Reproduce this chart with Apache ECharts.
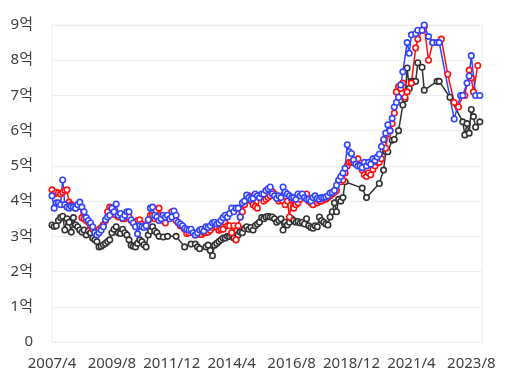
<!DOCTYPE html>
<html><head><meta charset="utf-8">
<script src="https://cdn.jsdelivr.net/npm/echarts@6/dist/echarts.min.js"></script>
<style>html,body{margin:0;padding:0;background:#fff}#c{width:510px;height:385px}</style>
</head><body><div id="c"></div>
<script>
// months 2007/4 .. 2024/1
const startYear = 2007, startMonth = 4, monthCount = 202;
const categories = [];
for (let k = 0; k < monthCount; k++) {
  const m = startMonth - 1 + k;
  categories.push((startYear + Math.floor(m / 12)) + '/' + (m % 12 + 1));
}
const yTicks = [0,1,2,3,4,5,6,7,8,9];
const _ = null;
// values in 억
const blue = [
 4.15,3.8,3.95,3.95,3.9,4.6,3.9,3.83,3.8,
 3.85,3.83,3.8,3.9,3.97,3.83,3.7,3.53,3.45,3.38,3.27,3.1,
 3.04,3.1,3.18,3.27,3.47,3.55,3.6,3.8,3.7,3.92,3.6,3.65,
 3.52,3.6,3.7,3.7,3.47,3.38,3.27,3.07,3.3,3.27,3.25,3.3,
 3.47,3.8,3.83,3.6,3.55,3.45,3.5,3.6,3.55,3.6,3.5,3.55,
 3.72,3.6,3.4,3.35,3.3,3.23,3.2,3.18,3.2,3.1,3.04,3.1,
 3.18,3.2,3.15,3.27,3.25,3.3,3.38,3.4,3.35,3.38,3.45,3.53,
 3.6,3.55,3.65,3.8,3.7,3.8,3.8,3.55,3.95,4.0,4.17,4.1,
 4.05,4.08,4.2,4.15,4.1,4.2,4.2,4.3,4.35,4.4,4.2,4.15,
 4.08,4.15,4.1,4.4,4.25,4.2,4.15,4.1,4.1,4.05,4.2,4.15,
 4.2,4.1,4.05,4.05,4.0,4.1,4.15,4.08,4.05,4.1,4.1,4.12,
 4.15,4.23,4.25,4.3,4.45,4.6,4.7,4.8,4.93,5.6,5.4,5.35,
 5.17,5.05,5.0,5.0,4.95,5.1,5.0,5.1,5.05,5.2,5.15,5.25,
 5.33,5.55,5.75,5.93,6.17,6.0,6.35,6.67,6.8,6.95,7.3,7.67,
 _,8.5,8.2,8.72,_,8.75,8.85,_,8.85,9.0,_,8.67,
 _,8.5,_,8.5,8.5,_,_,_,_,_,_,6.33,
 _,_,7.0,7.0,_,7.35,7.55,8.13,_,7.0,_,7.0,
 _
];
const red = [
 4.32,4.2,4.25,4.23,4.2,4.25,4.3,4.32,3.97,
 3.9,3.83,3.8,3.85,3.87,3.53,3.5,3.45,3.4,3.3,3.2,3.15,
 3.1,3.2,3.25,3.33,3.45,3.7,3.83,3.8,3.7,3.6,3.55,3.6,
 3.5,3.5,3.55,3.55,3.45,3.38,3.4,3.45,3.47,3.35,3.3,3.3,
 3.45,3.6,3.6,3.5,3.55,3.8,3.6,3.45,3.38,3.55,3.6,3.7,
 3.55,3.45,3.38,3.3,3.28,3.2,3.08,3.1,3.15,3.1,3.04,3.05,
 3.1,3.05,3.1,3.1,3.12,3.17,3.25,3.3,3.25,3.17,3.2,3.2,
 3.38,3.3,3.3,3.1,3.3,2.9,3.3,3.55,3.7,3.9,4.05,4.15,
 4.0,3.9,3.85,3.8,4.1,4.1,4.0,4.05,4.1,4.15,4.27,4.2,
 4.1,4.0,4.05,4.0,3.9,4.0,3.55,4.05,3.8,3.9,3.95,4.05,
 4.15,4.1,4.2,4.0,3.95,3.9,4.1,3.95,4.0,4.0,4.05,4.05,
 4.1,4.15,4.2,4.25,4.3,4.55,4.55,4.6,4.8,5.0,5.1,5.1,
 5.1,5.15,5.2,5.0,4.88,4.75,4.7,4.8,4.75,4.9,5.0,5.1,
 5.1,5.2,5.6,5.5,5.9,6.0,6.2,6.5,7.1,7.25,7.2,7.35,
 6.95,7.1,_,7.35,_,8.35,8.6,_,8.85,8.95,_,8.0,
 _,8.5,_,_,_,8.6,_,_,7.6,_,_,6.8,
 _,6.67,_,7.0,7.0,_,7.72,7.5,7.1,_,7.85,_,
 _
];
const black = [
 3.32,3.28,3.3,3.45,3.53,3.57,3.18,3.5,3.4,
 3.12,3.53,3.32,3.27,3.18,3.12,3.18,3.04,3.15,3.1,2.95,2.9,
 2.85,2.7,2.72,2.76,2.8,2.85,2.9,3.1,3.2,3.27,3.1,3.08,
 3.2,3.1,3.04,2.9,2.75,2.72,2.7,2.8,2.9,2.85,2.76,2.7,
 3.04,3.15,3.27,3.15,3.1,3.0,_,2.98,_,3.0,_,_,
 _,3.0,_,_,_,2.7,_,_,2.78,_,2.78,2.7,
 2.65,_,_,2.7,2.75,2.6,2.45,2.75,2.8,2.85,2.9,2.95,
 2.95,3.0,3.0,3.04,2.95,2.9,3.04,3.12,3.1,3.22,3.27,3.2,
 3.25,3.18,3.3,3.35,3.4,3.53,3.5,3.55,3.57,3.55,3.55,3.5,
 3.4,3.45,3.5,3.18,3.4,3.32,3.4,3.5,3.45,3.4,3.42,3.38,
 3.4,3.35,3.5,3.3,3.25,3.23,3.3,3.27,3.55,3.45,3.4,3.35,
 3.32,3.55,3.7,3.95,3.7,4.05,4.0,4.1,4.55,_,_,_,
 _,_,_,_,4.37,_,4.1,_,_,_,_,_,
 4.5,_,4.88,5.4,5.4,_,5.73,5.75,_,6.0,_,6.73,
 6.9,7.78,7.2,7.4,7.4,7.4,7.93,_,7.8,7.15,_,_,
 _,_,_,7.4,7.4,_,_,_,_,6.95,_,_,
 _,_,_,6.25,5.88,6.2,5.93,6.6,6.4,6.1,_,6.25,
 _
];
const font = "'Noto Sans','Noto Sans CJK KR',sans-serif";
function mk(name, data, color) {
  return {
    name, type: 'line', data, connectNulls: true,
    symbol: 'circle', symbolSize: 5.5, showSymbol: true, showAllSymbol: true,
    lineStyle: { color, width: 1.5 },
    itemStyle: { color: '#fff', borderColor: color, borderWidth: 1.6 },
    emphasis: { disabled: true }
  };
}
const chart = echarts.init(document.getElementById('c'));
chart.setOption({
  animation: false,
  grid: { left: 52, right: 28, top: 25, bottom: 43, show: true, borderColor: '#eeeeee', borderWidth: 1 },
  xAxis: {
    type: 'category', data: categories, boundaryGap: false,
    axisLine: { show: false }, axisTick: { show: false },
    axisLabel: { interval: 27, color: '#404040', fontSize: 15, fontFamily: font, margin: 14 }
  },
  yAxis: {
    type: 'value', min: yTicks[0], max: yTicks[yTicks.length - 1], interval: 1,
    axisLine: { show: false }, axisTick: { show: false },
    splitLine: { lineStyle: { color: '#eeeeee', width: 1 } },
    axisLabel: { color: '#404040', fontSize: 15, fontFamily: font, margin: 19,
      formatter: v => v === 0 ? '0' : v + '억' }
  },
  series: [ mk('black', black, '#333333'), mk('red', red, '#ff1111'), mk('blue', blue, '#3344ff') ]
});
</script></body></html>
